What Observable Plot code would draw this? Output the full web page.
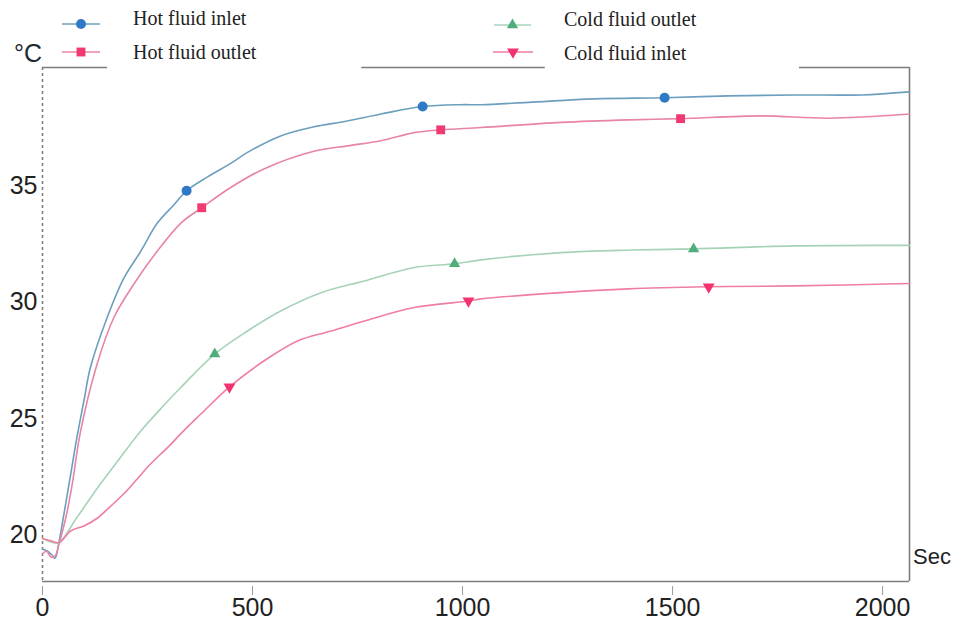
<!DOCTYPE html>
<html><head><meta charset="utf-8">
<script src="https://cdn.jsdelivr.net/npm/d3@7"></script>
<script src="https://cdn.jsdelivr.net/npm/@observablehq/plot@0.6"></script>
<style>
body{margin:0;background:#fff}
#wrap{position:relative;width:962px;height:624px;overflow:hidden}
#wrap svg{position:absolute;left:0;top:0}
</style>
</head><body><div id="wrap"></div>
<script>
// ---- data (seconds, °C) ----
const hotInletT = [0,12,22,30,39,51,67,83,100,114,154,194,234,273,313,343,393,450,488,567,646,726,806,905,996,1044,1156,1314,1481,1633,1790,1950,2064];
const hotInletV = [19.4,19.3,19.15,19.0,19.67,20.9,22.6,24.3,25.9,27.2,29.35,31.05,32.2,33.4,34.2,34.8,35.4,36.0,36.45,37.16,37.55,37.8,38.1,38.42,38.5,38.5,38.6,38.75,38.8,38.88,38.92,38.92,39.05];
const hotOutletT = [0,10,20,30,39,55,70,90,130,170,218,273,329,379,448,527,646,726,806,885,948,1044,1235,1400,1519,1712,1871,2064];
const hotOutletV = [19.2,19.3,19.05,19.1,19.6,20.7,22.1,24.4,27.35,29.35,30.8,32.2,33.4,34.07,34.94,35.74,36.5,36.73,36.95,37.3,37.42,37.52,37.74,37.85,37.9,38.02,37.92,38.1];
const coldOutletT = [0,20,39,80,130,180,234,280,329,410,488,567,663,766,885,981,1044,1235,1400,1550,1790,2064];
const coldOutletV = [19.85,19.7,19.67,20.7,22.0,23.2,24.47,25.4,26.34,27.78,28.77,29.63,30.42,30.92,31.5,31.66,31.83,32.14,32.25,32.3,32.43,32.45];
const coldInletT = [0,20,39,67,100,131,160,193,225,257,300,337,377,445,527,607,687,766,885,1014,1044,1235,1394,1586,1790,2064];
const coldInletV = [19.85,19.75,19.67,20.17,20.4,20.73,21.2,21.76,22.4,23.05,23.8,24.5,25.2,26.37,27.48,28.34,28.77,29.2,29.78,30.06,30.15,30.42,30.58,30.67,30.71,30.81];

// markers
const hotInletMarkT = [343,905,1481],  hotInletMarkV = [34.8,38.42,38.8];
const hotOutletMarkT = [379,948,1519], hotOutletMarkV = [34.07,37.42,37.9];
const coldOutletMarkT = [410,981,1550], coldOutletMarkV = [27.78,31.66,32.3];
const coldInletMarkT = [445,1014,1586], coldInletMarkV = [26.37,30.06,30.67];

const seriesNames = ["Hot fluid inlet","Hot fluid outlet","Cold fluid outlet","Cold fluid inlet"];
const xTicks = [0,500,1000,1500,2000];
const yTicks = [20,25,30,35];
const xLabel = "Sec";
const yLabel = "°C";

// ---- styles ----
const lineColors = ["#6c9fbd","#e884a4","#a6d3b8","#ef7ea0"];
const markColors = ["#2f7ac6","#f23a72","#4fae7c","#f2336f"];

const triangleDown = {
  draw(ctx, size) {
    const y = -Math.sqrt(size / (Math.sqrt(3) * 3));
    ctx.moveTo(0, -2 * y);
    ctx.lineTo(-Math.sqrt(3) * y, y);
    ctx.lineTo(Math.sqrt(3) * y, y);
    ctx.closePath();
  }
};
const symbols = ["circle","square","triangle",triangleDown];
const symbolR = [5,5,4.2,4.4];

const zip = (T, V, s) => T.map((t, i) => ({t, v: V[i], s}));
const lines = [
  zip(hotInletT, hotInletV, 0), zip(hotOutletT, hotOutletV, 1),
  zip(coldOutletT, coldOutletV, 2), zip(coldInletT, coldInletV, 3)
];
const marks = [
  zip(hotInletMarkT, hotInletMarkV, 0), zip(hotOutletMarkT, hotOutletMarkV, 1),
  zip(coldOutletMarkT, coldOutletMarkV, 2), zip(coldInletMarkT, coldInletMarkV, 3)
];

const xMax = 2064, yMin = 18, yMax = 40.1;
const frameColor = "#7d7d7d";

const chart = Plot.plot({
  width: 962, height: 624,
  marginLeft: 42, marginRight: 53, marginTop: 67, marginBottom: 43,
  style: {fontFamily: "'Liberation Sans', Arial, sans-serif", background: "#fff", color: "#222"},
  x: {domain: [0, xMax]},
  y: {domain: [yMin, yMax]},
  marks: [
    // frame pieces
    Plot.ruleX([0], {stroke: "#7a7a7a", strokeWidth: 1.5, strokeDasharray: "3,3"}),
    Plot.ruleY([yMin], {stroke: frameColor, strokeWidth: 1.6}),
    Plot.ruleX([xMax], {stroke: frameColor, strokeWidth: 1.6}),
    Plot.ruleY([yMax], {x1: 0, x2: 155, stroke: frameColor, strokeWidth: 1.4}),
    Plot.ruleY([yMax], {x1: 760, x2: 1197, stroke: frameColor, strokeWidth: 1.4}),
    Plot.ruleY([yMax], {x1: 1802, x2: xMax, stroke: frameColor, strokeWidth: 1.4}),
    Plot.axisX({ticks: xTicks, tickSize: 9, dy: 5, tickPadding: 3, fontSize: 25, stroke: "#999", label: null, tickFormat: d => String(d)}),
    Plot.axisY({ticks: yTicks, tickSize: 0, tickPadding: 5, fontSize: 25, label: null}),
    ...lines.map((d, i) => Plot.line(d, {x: "t", y: "v", stroke: lineColors[i], strokeWidth: 1.6, curve: "catmull-rom"})),
    ...marks.map((d, i) => Plot.dot(d, {x: "t", y: "v", fill: markColors[i], stroke: "none", r: symbolR[i], symbol: symbols[i]}))
  ]
});
const wrap = document.getElementById("wrap");
wrap.appendChild(chart);

// ---- overlay: legend and axis titles ----
const ov = d3.select(wrap).append("svg").attr("width", 962).attr("height", 624)
  .style("pointer-events", "none");
ov.append("text").text(yLabel).attr("x", 14).attr("y", 62)
  .attr("font-family", "'Liberation Sans', Arial, sans-serif").attr("font-size", 25).attr("fill", "#1d2a33");
ov.append("text").text(xLabel).attr("x", 913).attr("y", 564)
  .attr("font-family", "'Liberation Sans', Arial, sans-serif").attr("font-size", 22).attr("fill", "#222");

const legendPos = [
  {lx1: 62, lx2: 100, ly: 24, tx: 133, ty: 25},
  {lx1: 62, lx2: 100, ly: 52, tx: 133, ty: 59},
  {lx1: 494, lx2: 531, ly: 25, tx: 564, ty: 26},
  {lx1: 493, lx2: 533, ly: 52, tx: 564, ty: 60}
];
seriesNames.forEach((name, i) => {
  const p = legendPos[i];
  ov.append("line").attr("x1", p.lx1).attr("x2", p.lx2).attr("y1", p.ly).attr("y2", p.ly)
    .attr("stroke", lineColors[i]).attr("stroke-width", 1.5);
  const sym = typeof symbols[i] === "string"
    ? {circle: d3.symbolCircle, square: d3.symbolSquare, triangle: d3.symbolTriangle}[symbols[i]]
    : symbols[i];
  ov.append("path").attr("d", d3.symbol(sym, Math.PI * symbolR[i] * symbolR[i])())
    .attr("transform", `translate(${(p.lx1 + p.lx2) / 2},${p.ly})`).attr("fill", markColors[i]);
  ov.append("text").text(name).attr("x", p.tx).attr("y", p.ty)
    .attr("font-family", "'Liberation Serif', 'Times New Roman', serif").attr("font-size", 20).attr("fill", "#222");
});
</script>
</body></html>
